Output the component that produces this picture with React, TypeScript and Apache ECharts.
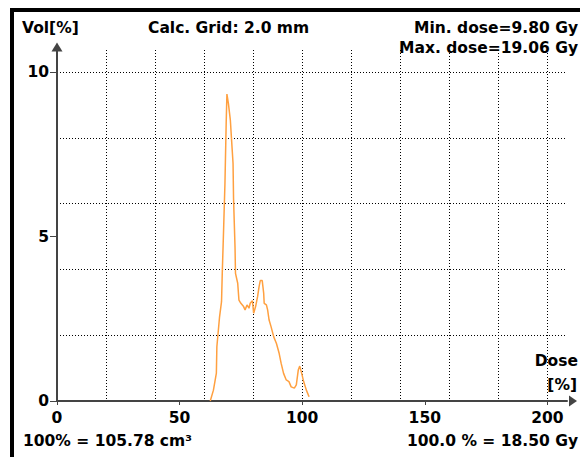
import React, { useEffect, useRef } from "react";
import * as echarts from "echarts";

const doseValues = [
  62.5, 63.8, 65.0, 65.2, 66.3, 67.1, 67.4, 67.9, 68.5, 69.0, 69.3, 69.9, 70.7, 71.2, 71.8, 72.0,
  72.6, 72.8, 73.7, 74.2, 75.0, 76.1, 76.7, 77.5, 78.3, 78.8, 79.7, 80.2, 81.0, 81.8, 82.4, 82.9,
  83.7, 84.3, 84.5, 85.4, 85.9, 86.5, 87.3, 88.4, 89.5, 90.6, 91.4, 92.4, 93.5, 94.6, 95.5, 96.8,
  97.6, 98.4, 99.0, 99.8, 100.6, 101.7, 102.8,
];
const volumeValues = [
  0.0, 0.33, 0.85, 1.65, 2.56, 3.02, 3.88, 5.1, 6.62, 8.44, 9.33, 9.05, 8.54, 7.93, 7.22, 6.16,
  4.69, 3.88, 3.58, 3.07, 2.97, 2.87, 2.77, 2.92, 2.82, 2.97, 3.05, 2.67, 2.87, 3.17, 3.47, 3.66,
  3.66, 3.27, 2.97, 2.92, 2.77, 2.46, 2.26, 1.95, 1.75, 1.45, 1.15, 0.84, 0.64, 0.59, 0.43, 0.39,
  0.49, 0.94, 1.06, 0.84, 0.59, 0.33, 0.13,
];
const xTickLabels = [0, 50, 100, 150, 200];
const yTickLabels = [0, 5, 10];

const FONT = "'DejaVu Sans', Verdana, sans-serif";
const FS = 15.5;

export default function App() {
  const ref = useRef<HTMLDivElement>(null);
  useEffect(() => {
    if (!ref.current) return;
    const chart = echarts.init(ref.current, null, { renderer: "svg" });
    const txt = { fontFamily: FONT, fontSize: FS, fontWeight: "bold", fill: "#000" };
    const gridSplit = {
      show: true,
      showMinLine: false,
      showMaxLine: false,
      lineStyle: { color: "#000", type: [1, 2], width: 1 },
    };
    const label = { color: "#000", fontFamily: FONT, fontSize: FS, fontWeight: "bold" };
    chart.setOption({
      animation: false,
      backgroundColor: "#fff",
      grid: { left: 57, top: 50, right: 13, bottom: 56, containLabel: false },
      xAxis: [
        {
          type: "value",
          min: 0,
          max: 208,
          interval: 20,
          axisLine: { show: false },
          axisTick: { show: false },
          axisLabel: { show: false },
          splitLine: gridSplit,
        },
        {
          type: "value",
          position: "bottom",
          min: 0,
          max: 208,
          interval: 50,
          axisLine: {
            show: true,
            lineStyle: { color: "#444", width: 2 },
            symbol: ["none", "triangle"],
            symbolSize: [11, 8],
            symbolOffset: [0, 6],
          },
          axisTick: { show: true, length: 4, customValues: xTickLabels, lineStyle: { color: "#444", width: 1 } },
          axisLabel: { ...label, customValues: xTickLabels, margin: 9 },
          splitLine: { show: false },
        },
      ],
      yAxis: [
        {
          type: "value",
          min: 0,
          max: 10.67,
          interval: 2,
          axisLine: { show: false },
          axisTick: { show: false },
          axisLabel: { show: false },
          splitLine: gridSplit,
        },
        {
          type: "value",
          position: "left",
          min: 0,
          max: 10.67,
          interval: 5,
          axisLine: {
            show: true,
            lineStyle: { color: "#444", width: 2 },
            symbol: ["none", "triangle"],
            symbolSize: [11, 9],
            symbolOffset: [0, 3],
          },
          axisTick: { show: true, length: 7, customValues: yTickLabels, lineStyle: { color: "#444", width: 1 } },
          axisLabel: { ...label, customValues: yTickLabels, margin: 8 },
          splitLine: { show: false },
        },
      ],
      series: [
        {
          type: "line",
          xAxisIndex: 0,
          yAxisIndex: 0,
          data: doseValues.map((d, i) => [d, volumeValues[i]]),
          showSymbol: false,
          lineStyle: { color: "#FFA040", width: 1.5 },
          z: 5,
        },
      ],
      graphic: [
        { type: "rect", left: 10, top: 8, shape: { width: 4, height: 449 }, style: { fill: "#000" } },
        { type: "rect", left: 10, top: 8, shape: { width: 570, height: 4 }, style: { fill: "#000" } },
        { type: "text", x: 22, y: 28, style: { ...txt, text: "Vol[%]", textAlign: "left", textVerticalAlign: "middle" } },
        { type: "text", x: 148, y: 28, style: { ...txt, text: "Calc. Grid: 2.0 mm", textAlign: "left", textVerticalAlign: "middle" } },
        { type: "text", x: 578, y: 28, style: { ...txt, text: "Min. dose=9.80 Gy", textAlign: "right", textVerticalAlign: "middle" } },
        { type: "text", x: 578, y: 48, style: { ...txt, text: "Max. dose=19.06 Gy", textAlign: "right", textVerticalAlign: "middle" } },
        { type: "text", x: 578, y: 361, style: { ...txt, text: "Dose", textAlign: "right", textVerticalAlign: "middle" } },
        { type: "text", x: 577, y: 385, style: { ...txt, text: "[%]", textAlign: "right", textVerticalAlign: "middle" } },
        { type: "text", x: 23, y: 441, style: { ...txt, text: "100% = 105.78 cm³", textAlign: "left", textVerticalAlign: "middle" } },
        { type: "text", x: 578, y: 441, style: { ...txt, text: "100.0 % = 18.50 Gy", textAlign: "right", textVerticalAlign: "middle" } },
      ],
    });
    return () => chart.dispose();
  }, []);
  return (
    <div
      ref={ref}
      style={{ position: "absolute", left: 0, top: 0, width: 580, height: 457, background: "#fff" }}
    />
  );
}
